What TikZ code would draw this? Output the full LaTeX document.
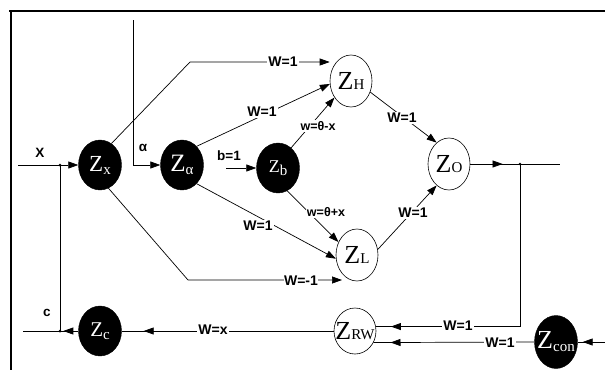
\documentclass[tikz,border=0pt]{standalone}
\usepackage{fontspec}
\setmainfont{Liberation Serif}
\setsansfont{Liberation Sans}
\usetikzlibrary{arrows.meta,shapes.geometric,decorations.markings}
\newcommand\zup[2]{\makebox[0pt]{\fontsize{#1}{#1}\selectfont Z\fontsize{15}{15}\selectfont #2}}
\newcommand\zlow[2]{\makebox[0pt]{\fontsize{#1}{#1}\selectfont Z\fontsize{15}{15}\selectfont\raisebox{-3pt}{#2}}}
\begin{document}
\begin{tikzpicture}[x=1pt,y=-1pt,
  blk/.style={ellipse,fill=black,draw=black,minimum width=43pt,minimum height=50pt,inner sep=0pt,text=white},
  wht/.style={ellipse,draw=black,line width=0.6pt,minimum width=42pt,minimum height=52pt,inner sep=0pt},
  lbl/.style={font=\sffamily\bfseries\fontsize{14}{14}\selectfont,fill=white,inner sep=1.5pt},
  sm/.style={font=\sffamily\bfseries\fontsize{12.5}{13}\selectfont,fill=white,inner sep=1pt},
  txt/.style={font=\sffamily\bfseries\fontsize{13.5}{14}\selectfont,inner sep=0pt},
  ln/.style={line width=0.7pt},
  tip/.style={-{Triangle[length=10pt,width=7pt]}},
  midarr/.style={postaction={decorate},decoration={markings,mark=at position #1 with {\arrow{Triangle[length=10pt,width=7pt]}}}}
]
\useasboundingbox (0,0) rectangle (605,370);
% frame
\draw[line width=2.5pt] (9,11) -- (605,11);
\draw[line width=2pt] (11,10) -- (11,370);

% nodes
\node[blk] (Zx) at (100,165) {\zlow{23}{x}};
\node[blk] (Za) at (182,165) {\zlow{25}{α}};
\node[blk] (Zb) at (278,168) {\zlow{18}{b}};
\node[wht] (ZH) at (351,81) {\zup{26}{H}};
\node[wht] (ZO) at (449,164) {\zup{26}{O}};
\node[wht] (ZL) at (357,255) {\zup{26}{L}};
\node[wht,minimum height=46pt] (ZRW) at (355,331) {\zup{26}{RW}};
\node[blk,minimum height=53pt] (Zcon) at (556,342) {\zlow{26}{con}};
\node[blk] (Zc) at (100,331) {\zlow{21}{c}};

% coordinates
\coordinate (ain) at (133,20);
\coordinate (xin) at (18,165);
\coordinate (bin) at (226,168);
\coordinate (j1) at (60,165);
\coordinate (jc) at (60,331);
\coordinate (cl) at (23,331);
\coordinate (c1) at (190,62);
\coordinate (c2) at (188,280);
\coordinate (c3) at (342,280);
\coordinate (oend) at (560,164);
\coordinate (jo) at (520,164);
\coordinate (cin) at (605,342);

% connectors
\draw[ln,tip] (ain) |- (Za.west);
\draw[ln,tip] (xin) -- (Zx.west);
\draw[ln,tip] (bin) -- (Zb.west);
\draw[ln] (j1) -- (jc);
\fill (j1) circle (1.5);
\fill (jc) circle (1.5);
\draw[ln,midarr=15pt] (Zc.west) -- (cl);
\draw[ln,tip] (Zx.62) -- (c1) -- (c1 -| ZH.west);
\draw[ln,tip] (Za.52) -- (ZH.188);
\draw[ln,tip] (Zb.57) -- (ZH.225);
\draw[ln,tip] (Za.-52) -- (ZL.190);
\draw[ln,tip] (Zb.-68) -- (ZL.145);
\draw[ln,tip] (Zx.-70) -- (c2) -- (c3);
\draw[ln,tip] (ZH.-30) -- (ZO.120);
\draw[ln,tip] (ZL.15) -- (ZO.240);
\draw[ln,midarr=0.36] (ZO.east) -- (oend);
\fill (jo) circle (1.3);
\draw[ln,midarr=-15pt] (jo) |- (ZRW.12);
\draw[ln,midarr=-17pt] (Zcon.west) -- (ZRW.-32);
\draw[ln,midarr=-22pt] (ZRW.west) -- (Zc.east);
\draw[ln,midarr=-5pt] (cin) -- (Zcon.east);

% labels
\node[txt] (tX) at (40,153) {X};
\node[txt] (ta) at (143,148) {α};
\node[txt] (tb) at (229,156) {b=1};
\node[txt] (tc) at (47,313) {c};
\node[lbl] (l1) at (283,62) {W=1};
\node[lbl] (l2) at (262,112) {W=1};
\node[sm] (l3) at (318,126) {w=θ-x};
\node[lbl] (l4) at (258,226) {W=1};
\node[sm] (l5) at (326,212) {w=θ+x};
\node[lbl,inner sep=0.5pt] (l6) at (301,281) {W=-1\hspace{10pt}};
\node[lbl] (l7) at (402,118) {W=1};
\node[lbl] (l8) at (413,213) {W=1};
\node[lbl] (l9) at (458,326) {W=1};
\node[lbl] (l10) at (500,343) {W=1};
\node[lbl] (l11) at (213,330) {W=x};
\end{tikzpicture}
\end{document}
